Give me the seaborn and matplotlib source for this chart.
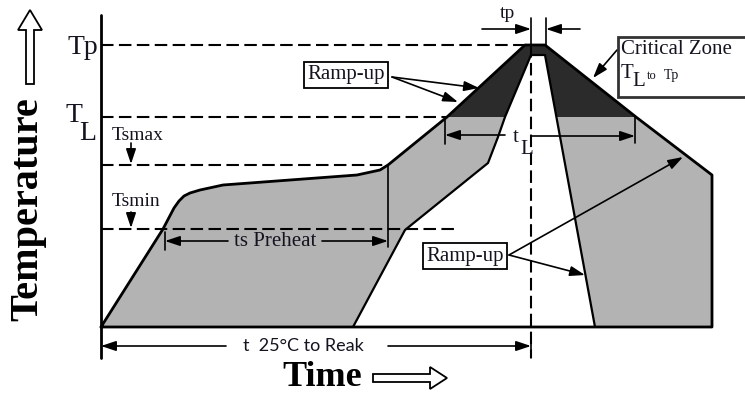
import numpy as np
import pandas as pd
import matplotlib
matplotlib.use("Agg")
import matplotlib.pyplot as plt
import seaborn as sns
from matplotlib.patches import Polygon, FancyArrow, Rectangle

# ---------------- data (schematic coordinates, pixel-like units) ----------------
outer_time = [101, 163, 174, 179, 184, 190, 200, 223, 290, 357, 380, 388, 447, 525, 545, 636, 712, 712, 101]
outer_temp = [327, 229, 208, 201, 196, 193, 190, 185, 180, 175, 170, 165, 117, 45, 45, 117, 175, 327, 327]

inner_time = [353, 405, 488, 498, 505, 531, 545, 595]
inner_temp = [327, 230, 163, 137, 117, 55, 55, 327]

critical_time = [447, 525, 545, 636]
critical_temp = [117, 45, 45, 117]

level_names = ["Tp", "TL", "Tsmax", "Tsmin"]
level_temp = [45, 117, 165, 229]
level_end = [528, 447, 388, 458]

axis_x = 101
axis_top = 15
axis_bottom = 358
peak_x = 531

# ---------------- figure ----------------
sns.set_theme(style="white")
plt.rcParams["font.family"] = ["Liberation Serif", "DejaVu Serif"]

fig = plt.figure(figsize=(7.45, 3.97), dpi=100)
ax = fig.add_axes([0, 0, 1, 1])
ax.set_xlim(0, 745)
ax.set_ylim(397, 0)
ax.axis("off")

LIGHT = "#b3b3b3"
DARK = "#2b2b2b"
TXT = "#141420"

# fills
ax.add_patch(Polygon(np.column_stack([outer_time, outer_temp]), closed=True,
                     facecolor=LIGHT, edgecolor="none", zorder=1))
ax.add_patch(Polygon(np.column_stack([critical_time, critical_temp]), closed=True,
                     facecolor=DARK, edgecolor="none", zorder=2))
ax.add_patch(Polygon(np.column_stack([inner_time, inner_temp]), closed=True,
                     facecolor="white", edgecolor="none", zorder=3))

# dashed temperature levels
for t, xe in zip(level_temp, level_end):
    df = pd.DataFrame({"x": [axis_x, xe], "y": [t, t]})
    sns.lineplot(data=df, x="x", y="y", ax=ax, color="black", lw=1.5,
                 sort=False, estimator=None, zorder=4)
    ax.lines[-1].set_dashes((6, 2.6))

# peak vertical dashed line
dfp = pd.DataFrame({"x": [peak_x, peak_x], "y": [level_temp[0], axis_bottom]})
sns.lineplot(data=dfp, x="x", y="y", ax=ax, color="black", lw=1.5, sort=False,
             estimator=None, zorder=4)
ax.lines[-1].set_dashes((6, 2.6))

# outlines
dfo = pd.DataFrame({"x": outer_time, "y": outer_temp})
sns.lineplot(data=dfo, x="x", y="y", ax=ax, color="black", lw=2.0, sort=False,
             estimator=None, zorder=6)
dfi = pd.DataFrame({"x": inner_time, "y": inner_temp})
sns.lineplot(data=dfi, x="x", y="y", ax=ax, color="black", lw=1.6, sort=False,
             estimator=None, zorder=6)

# temperature axis
ax.plot([axis_x, axis_x], [axis_top, axis_bottom], color="black", lw=2.0, zorder=6)

# markers
def vline(x, y0, y1, lw=1.2):
    ax.plot([x, x], [y0, y1], color="black", lw=lw, zorder=6)

vline(388, 165, 247)
vline(165, 232, 250)
vline(445, 117, 144)
vline(635, 117, 143)
vline(531, 18, 45)
vline(546, 18, 45)
vline(peak_x, 338, axis_bottom)

def arrow(x0, y0, x1, y1, lw=1.2):
    ax.annotate("", xy=(x1, y1), xytext=(x0, y0),
                arrowprops=dict(arrowstyle="-|>,head_length=0.6,head_width=0.2",
                                color="black", lw=lw, shrinkA=0, shrinkB=0,
                                mutation_scale=15), zorder=7)

# tp
arrow(482, 29, 531, 29)
arrow(580, 29, 546, 29)
# Tsmax / Tsmin small arrows
arrow(131, 143, 131, 164)
arrow(131, 212, 131, 228)
# ts preheat
arrow(228, 241, 165, 241)
arrow(322, 241, 388, 241)
# tL
arrow(505, 135, 445, 135)
arrow(peak_x, 136, 635, 136)
# t 25 to peak
arrow(226, 346, axis_x, 346)
arrow(388, 346, peak_x, 346)
# ramp-up (upper)
arrow(392, 77, 458, 102)
arrow(392, 77, 479, 88)
# ramp-up (lower)
arrow(509, 255, 683, 157)
arrow(509, 255, 585, 275)
# critical zone
arrow(617, 50, 593, 78)

# labels
ax.text(98, 47, "Tp", fontsize=20, color=TXT, ha="right", va="center", zorder=8)
ax.text(66, 116, "T", fontsize=20, color=TXT, ha="left", va="center", zorder=8)
ax.text(79, 133, "L", fontsize=20, color=TXT, ha="left", va="center", zorder=8)
ax.text(112, 135, "Tsmax", fontsize=14, color=TXT, ha="left", va="center", zorder=8)
ax.text(112, 202, "Tsmin", fontsize=14, color=TXT, ha="left", va="center", zorder=8)
ax.text(275, 242, "ts Preheat", fontsize=15, color=TXT, ha="center", va="center", zorder=8)
ax.text(513, 137, "t", fontsize=15, color=TXT, ha="left", va="center", zorder=8)
ax.text(520, 150, "L", fontsize=15, color=TXT, ha="left", va="center", zorder=8)
ax.text(507, 14, "tp", fontsize=14, color=TXT, ha="center", va="center", zorder=8)

ax.text(346, 75, "Ramp-up", fontsize=15, color=TXT, ha="center", va="center", zorder=8,
        bbox=dict(facecolor="white", edgecolor="black", lw=1.3, pad=2.5))
ax.text(465, 256, "Ramp-up", fontsize=15, color=TXT, ha="center", va="center", zorder=8,
        bbox=dict(facecolor="white", edgecolor="black", lw=1.3, pad=2.5))

ax.add_patch(Rectangle((618, 37), 140, 60, facecolor="white", edgecolor="#333333",
                       lw=2.0, zorder=7))
ax.text(621, 50, "Critical Zone", fontsize=15, color=TXT, ha="left", va="center", zorder=8)
ax.text(621, 73, "T", fontsize=15, color=TXT, ha="left", va="center", zorder=8)
ax.text(632, 82, "L", fontsize=15, color=TXT, ha="left", va="center", zorder=8)
ax.text(647, 76, "to", fontsize=9, color=TXT, ha="left", va="center", zorder=8)
ax.text(664, 76, "Tp", fontsize=10, color=TXT, ha="left", va="center", zorder=8)

ax.text(303, 346, "t  25°C to Reak", fontsize=13, color=TXT, ha="center", va="center",
        family=["Lato", "DejaVu Sans"], zorder=8,
        bbox=dict(facecolor="white", edgecolor="none", pad=1))

ax.text(322, 378, "Time", fontsize=26, fontweight="bold", color="black",
        ha="center", va="center", zorder=8)
ax.text(28, 209, "Temperature", fontsize=29, fontweight="bold", color="black",
        ha="center", va="center", rotation=90, zorder=8)

# hollow arrows
ax.add_patch(FancyArrow(373, 378, 74, 0, width=8, head_width=22, head_length=17,
                        length_includes_head=True, facecolor="white",
                        edgecolor="black", lw=1.3, zorder=8))
ax.add_patch(FancyArrow(30, 84, 0, -74, width=8, head_width=24, head_length=20,
                        length_includes_head=True, facecolor="white",
                        edgecolor="black", lw=1.3, zorder=8))

fig.savefig("out.png", dpi=100)
